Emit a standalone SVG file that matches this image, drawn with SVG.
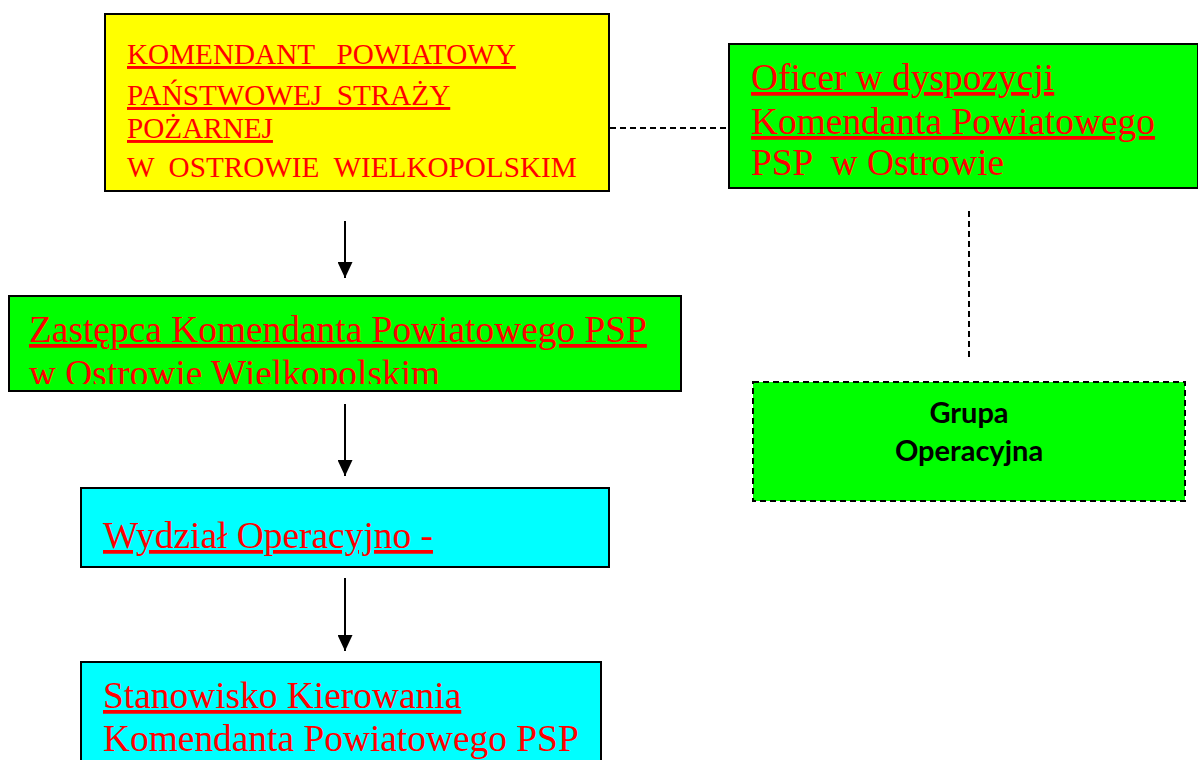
<svg xmlns="http://www.w3.org/2000/svg" width="1198" height="760" viewBox="0 0 1198 760">
<style>
.box{stroke:#000;stroke-width:2}
.dash{stroke:#000;stroke-width:2;stroke-dasharray:6 4;fill:none}
.t{font-family:"Liberation Serif","Times New Roman",serif;fill:#ff0000;white-space:pre}
.s29{font-size:29.2px}
.s37{font-size:37.4px}
.u{text-decoration:underline}
.g{font-family:Lato,"Open Sans",sans-serif;font-weight:700;font-size:29px;fill:#000;text-anchor:middle}
.arr{stroke:#000;stroke-width:2;fill:none;marker-end:url(#ah)}
</style>
<defs>
<marker id="ah" viewBox="0 0 16 15" refX="16" refY="7.5" markerWidth="16" markerHeight="15" markerUnits="userSpaceOnUse" orient="auto">
<path d="M0,0 L16,7.5 L0,15 z" fill="#000"/>
</marker>
<clipPath id="clipZ"><rect x="10" y="297" width="670" height="87"/></clipPath>
</defs>
<rect width="1198" height="760" fill="#fff"/>
<g id="connectors">
<line class="dash" x1="610" y1="128" x2="728" y2="128"/>
<line class="dash" x1="969" y1="211" x2="969" y2="358"/>
<line class="arr" x1="345" y1="221" x2="345" y2="278"/>
<line class="arr" x1="345" y1="404" x2="345" y2="476"/>
<line class="arr" x1="345" y1="578" x2="345" y2="651"/>
</g>
<g id="komendant">
<rect class="box" x="105" y="14" width="504" height="177" fill="#ffff00"/>
<text class="t s29 u" x="127" y="64">KOMENDANT   POWIATOWY</text>
<text class="t s29 u" x="127" y="105">PAŃSTWOWEJ  STRAŻY</text>
<text class="t s29 u" x="127" y="138">POŻARNEJ</text>
<text class="t s29" x="127" y="177">W  OSTROWIE  WIELKOPOLSKIM</text>
</g>
<g id="oficer">
<rect class="box" x="729" y="44" width="469" height="144" fill="#00ff00"/>
<text class="t s37 u" x="751" y="90">Oficer w dyspozycji</text>
<text class="t s37 u" x="751" y="134">Komendanta Powiatowego</text>
<text class="t s37" x="751" y="175">PSP  w Ostrowie</text>
</g>
<g id="zastepca">
<rect class="box" x="9" y="296" width="672" height="95" fill="#00ff00"/>
<text class="t s37 u" x="29" y="342">Zastępca Komendanta Powiatowego PSP</text>
<text class="t s37" x="29" y="386" clip-path="url(#clipZ)">w Ostrowie Wielkopolskim</text>
</g>
<g id="grupa">
<rect class="dash" x="753" y="382" width="432" height="119" style="fill:#00ff00"/>
<text class="g" x="969" y="423">Grupa</text>
<text class="g" x="969" y="461">Operacyjna</text>
</g>
<g id="wydzial">
<rect class="box" x="81" y="488" width="528" height="79" fill="#00ffff"/>
<text class="t s37 u" x="103" y="548">Wydział Operacyjno -</text>
</g>
<g id="stanowisko">
<rect class="box" x="81" y="662" width="520" height="110" fill="#00ffff"/>
<text class="t s37 u" x="103" y="708">Stanowisko Kierowania</text>
<text class="t s37" x="103" y="751">Komendanta Powiatowego PSP</text>
</g>
</svg>
